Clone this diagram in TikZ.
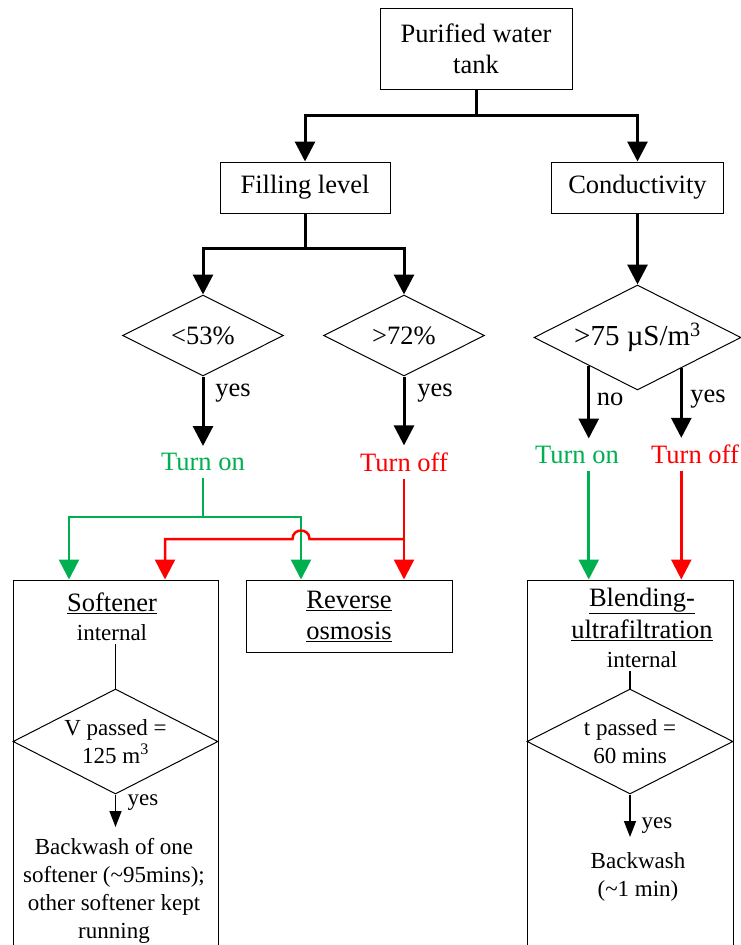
\documentclass[tikz,border=0pt]{standalone}
\usepackage{fontspec}
\setmainfont{Liberation Serif}
\usepackage{tikz}
\usetikzlibrary{shapes.geometric, arrows.meta, positioning, calc}
\definecolor{oncolor}{RGB}{0,176,80}
\definecolor{offcolor}{RGB}{255,0,0}

\begin{document}
\begin{tikzpicture}[
    x=1pt, y=-1pt,
    box/.style={draw, line width=1pt, align=center, font=\fontsize{26.5}{31}\selectfont},
    decision/.style={diamond, aspect=2, draw, line width=1pt, inner sep=0pt, align=center, font=\fontsize{26.5}{31}\selectfont},
    smalldecision/.style={decision, font=\fontsize{23}{28}\selectfont},
    title/.style={inner sep=2pt, align=center, font=\fontsize{26.5}{32}\selectfont},
    note/.style={inner sep=3pt, align=center, font=\fontsize{23}{28}\selectfont},
    answer/.style={inner sep=2pt, font=\fontsize{26.5}{31}\selectfont},
    switch/.style={inner sep=7pt, font=\fontsize{26.5}{31}\selectfont},
    link/.style={line width=3pt},
    arrow/.style={line width=3pt, -{Triangle[length=20pt,width=20pt]}},
    onlink/.style={line width=2.5pt, oncolor},
    onarrow/.style={onlink, -{Triangle[length=20pt,width=20pt]}},
    offarrow/.style={line width=2.5pt, offcolor, -{Triangle[length=20pt,width=20pt]}},
    thinlink/.style={line width=1.5pt},
    smallarrow/.style={line width=1.5pt, -{Triangle[length=16pt,width=12pt]}}
]
    \useasboundingbox (0,0) rectangle (741,945);
    \clip (0,0) rectangle (741,945);

    % measurement tree
    \node[box, minimum width=192, minimum height=81] (tank) at (476,48.5) {Purified water\\tank};
    \node[box, minimum width=170, minimum height=51] (level) at (305,187.5) {Filling level};
    \node[box, minimum width=172, minimum height=51] (cond) at (637.5,187.5) {Conductivity};

    \node[decision, minimum width=161, minimum height=81] (low) at (203,335.5) {<53\%};
    \node[decision, minimum width=161, minimum height=81] (high) at (404,335.5) {>72\%};
    \node[decision, minimum width=207, minimum height=105, font=\fontsize{29}{33}\selectfont] (cdec) at (637.5,337.5) {>75 µS/m\textsuperscript{3}};

    \node[answer] (lowyes) at (233,393) {yes};
    \node[answer] (highyes) at (435,393) {yes};
    \node[answer] (cno) at (610,399) {no};
    \node[answer] (cyes) at (708,399) {yes};

    \node[switch, text=oncolor] (on1) at (203,462) {Turn on};
    \node[switch, text=offcolor] (off1) at (404,462) {Turn off};
    \node[switch, text=oncolor] (on2) at (577,454.5) {Turn on};
    \node[switch, text=offcolor] (off2) at (695,454.5) {Turn off};

    % units
    \node[box, minimum width=205, minimum height=380] (soft) at (115.5,770) {};
    \node[box, minimum width=206, minimum height=72] (osmo) at (349,616) {\underline{Reverse}\\\underline{osmosis}};
    \node[box, minimum width=206, minimum height=380] (blend) at (630,770) {};

    % softener internal loop
    \node[title] (softname) at (112,603) {\underline{Softener}};
    \node[note] (softint) at (112,633) {internal};
    \node[smalldecision, minimum width=205, minimum height=105] (vdec) at (115.5,741.5) {V passed =\\125 m\textsuperscript{3}};
    \node[note] (softyes) at (143,803) {yes};
    \node[note, inner ysep=11pt, anchor=north] (softwash) at (114,827) {Backwash of one\\softener (\textasciitilde95mins);\\other softener kept\\running};

    % blending internal loop
    \node[title] (blendname) at (642,614) {\underline{Blending-}\\\underline{ultrafiltration}};
    \node[note] (blendint) at (642,660) {internal};
    \node[smalldecision, minimum width=206, minimum height=105] (tdec) at (630,741.5) {t passed =\\60 mins};
    \node[note] (blendyes) at (657,826) {yes};
    \node[note, inner ysep=15pt, anchor=north] (blendwash) at (638,837) {Backwash\\(\textasciitilde1 min)};

    % black connectors
    \coordinate (tanksplit) at (476,115);
    \draw[link] (tank) -- (tanksplit);
    \draw[arrow] (tanksplit) -| (level);
    \draw[arrow] (tanksplit) -| (cond);

    \coordinate (levelsplit) at (305,248);
    \draw[link] (level) -- (levelsplit);
    \draw[arrow] (levelsplit) -| (low);
    \draw[arrow] (levelsplit) -| (high);
    \draw[arrow] (cond) -- (cdec);

    \draw[arrow] (low) -- (on1);
    \draw[arrow] (high) -- (off1);
    \draw[arrow] (cdec.210) -- (cdec.210 |- on2.north);
    \draw[arrow] (cdec.325) -- (cdec.325 |- off2.north);

    % switching lines
    \coordinate (onsplit) at (203,517);
    \draw[onlink] (on1) -- (onsplit);
    \draw[onarrow] (onsplit) -| ([xshift=-46.5]soft.north);
    \draw[onarrow] (onsplit) -| ([xshift=-48]osmo.north);

    \coordinate (offsplit) at (404,539);
    \coordinate (hop) at (301,539);
    \draw[offarrow] (off1) -- (off1 |- osmo.north);
    \draw[offarrow] (offsplit) -- ([xshift=8.5]hop) .. controls +(0,-11.3) and +(0,-11.3) .. ([xshift=-8.5]hop) -| ([xshift=49.5]soft.north);

    \draw[onarrow] (cdec.210 |- on2.south) -- (cdec.210 |- blend.north);
    \draw[offarrow] (cdec.325 |- off2.south) -- (cdec.325 |- blend.north);

    % inner flows
    \draw[thinlink] (vdec.north |- softint.south) -- (vdec);
    \draw[smallarrow] (vdec) -- (vdec.south |- softwash.north);
    \draw[thinlink] (tdec.north |- blendint.south) -- (tdec);
    \draw[smallarrow] (tdec) -- (tdec.south |- blendwash.north);
\end{tikzpicture}
\end{document}
